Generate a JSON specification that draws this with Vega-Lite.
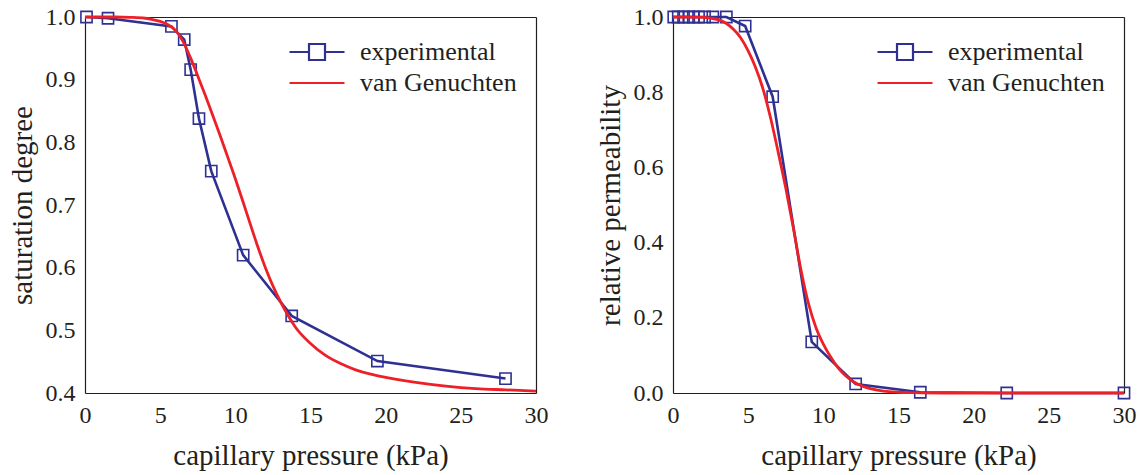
{
  "$schema": "https://vega.github.io/schema/vega-lite/v6.json",
  "background": "white",
  "padding": {"left": 8, "top": 5, "right": 5, "bottom": 5},
  "config": {
    "view": {"stroke": null},
    "font": "Liberation Serif",
    "axis": {
      "grid": false,
      "labelFont": "Liberation Serif",
      "labelFontSize": 24,
      "labelColor": "#231f20",
      "titleFont": "Liberation Serif",
      "titleFontSize": 29,
      "titleFontWeight": "normal",
      "titleColor": "#231f20",
      "domainColor": "#231f20",
      "domainWidth": 1.2,
      "tickColor": "#231f20",
      "tickWidth": 1,
      "tickSize": 0,
      "labelOverlap": false,
      "labelFlush": false,
      "labelPadding": 10
    },
    "legend": {
      "orient": "none",
      "legendX": 219,
      "legendY": 22,
      "padding": 0,
      "labelFont": "Liberation Serif",
      "labelFontSize": 26,
      "labelColor": "#231f20",
      "labelOffset": 30,
      "rowPadding": 5,
      "symbolSize": 400,
      "symbolStrokeWidth": 2.2
    }
  },
  "datasets": {
    "sat_exp": [
      {"p": 0.1, "v": 1.0, "series": "experimental"},
      {"p": 1.53, "v": 0.998, "series": "experimental"},
      {"p": 5.75, "v": 0.985, "series": "experimental"},
      {"p": 6.6, "v": 0.964, "series": "experimental"},
      {"p": 7.03, "v": 0.916, "series": "experimental"},
      {"p": 7.58, "v": 0.838, "series": "experimental"},
      {"p": 8.4, "v": 0.754, "series": "experimental"},
      {"p": 10.52, "v": 0.62, "series": "experimental"},
      {"p": 13.75, "v": 0.523, "series": "experimental"},
      {"p": 19.45, "v": 0.451, "series": "experimental"},
      {"p": 27.97, "v": 0.423, "series": "experimental"}
    ],
    "sat_vg": [
      {"p": 0, "v": 1.0, "series": "van Genuchten"},
      {"p": 1, "v": 1.0, "series": "van Genuchten"},
      {"p": 2, "v": 1.0, "series": "van Genuchten"},
      {"p": 3, "v": 0.9995, "series": "van Genuchten"},
      {"p": 4, "v": 0.998, "series": "van Genuchten"},
      {"p": 4.5, "v": 0.996, "series": "van Genuchten"},
      {"p": 5, "v": 0.993, "series": "van Genuchten"},
      {"p": 5.5, "v": 0.988, "series": "van Genuchten"},
      {"p": 6, "v": 0.979, "series": "van Genuchten"},
      {"p": 6.5, "v": 0.962, "series": "van Genuchten"},
      {"p": 7, "v": 0.936, "series": "van Genuchten"},
      {"p": 7.5, "v": 0.906, "series": "van Genuchten"},
      {"p": 8, "v": 0.875, "series": "van Genuchten"},
      {"p": 8.5, "v": 0.843, "series": "van Genuchten"},
      {"p": 9, "v": 0.81, "series": "van Genuchten"},
      {"p": 9.5, "v": 0.776, "series": "van Genuchten"},
      {"p": 10, "v": 0.742, "series": "van Genuchten"},
      {"p": 10.5, "v": 0.706, "series": "van Genuchten"},
      {"p": 11, "v": 0.669, "series": "van Genuchten"},
      {"p": 11.5, "v": 0.633, "series": "van Genuchten"},
      {"p": 12, "v": 0.6, "series": "van Genuchten"},
      {"p": 12.5, "v": 0.571, "series": "van Genuchten"},
      {"p": 13, "v": 0.546, "series": "van Genuchten"},
      {"p": 13.5, "v": 0.524, "series": "van Genuchten"},
      {"p": 14, "v": 0.505, "series": "van Genuchten"},
      {"p": 15, "v": 0.479, "series": "van Genuchten"},
      {"p": 16, "v": 0.46, "series": "van Genuchten"},
      {"p": 17, "v": 0.447, "series": "van Genuchten"},
      {"p": 18, "v": 0.437, "series": "van Genuchten"},
      {"p": 19, "v": 0.43, "series": "van Genuchten"},
      {"p": 20, "v": 0.425, "series": "van Genuchten"},
      {"p": 22, "v": 0.417, "series": "van Genuchten"},
      {"p": 24, "v": 0.411, "series": "van Genuchten"},
      {"p": 26, "v": 0.407, "series": "van Genuchten"},
      {"p": 28, "v": 0.405, "series": "van Genuchten"},
      {"p": 30, "v": 0.403, "series": "van Genuchten"}
    ],
    "kr_exp": [
      {"p": 0.05, "v": 1.0, "series": "experimental"},
      {"p": 0.35, "v": 1.0, "series": "experimental"},
      {"p": 0.7, "v": 1.0, "series": "experimental"},
      {"p": 1.05, "v": 1.0, "series": "experimental"},
      {"p": 1.35, "v": 1.0, "series": "experimental"},
      {"p": 1.7, "v": 1.0, "series": "experimental"},
      {"p": 2.1, "v": 1.0, "series": "experimental"},
      {"p": 2.65, "v": 1.0, "series": "experimental"},
      {"p": 3.55, "v": 1.0, "series": "experimental"},
      {"p": 4.8, "v": 0.976, "series": "experimental"},
      {"p": 6.63, "v": 0.788, "series": "experimental"},
      {"p": 9.23, "v": 0.136, "series": "experimental"},
      {"p": 12.15, "v": 0.024, "series": "experimental"},
      {"p": 16.45, "v": 0.002, "series": "experimental"},
      {"p": 22.2, "v": 0.0, "series": "experimental"},
      {"p": 30, "v": 0.0, "series": "experimental"}
    ],
    "kr_vg": [
      {"p": 0, "v": 1.0, "series": "van Genuchten"},
      {"p": 1, "v": 1.0, "series": "van Genuchten"},
      {"p": 2, "v": 0.999, "series": "van Genuchten"},
      {"p": 2.5, "v": 0.997, "series": "van Genuchten"},
      {"p": 3, "v": 0.993, "series": "van Genuchten"},
      {"p": 3.5, "v": 0.984, "series": "van Genuchten"},
      {"p": 4, "v": 0.968, "series": "van Genuchten"},
      {"p": 4.5, "v": 0.945, "series": "van Genuchten"},
      {"p": 5, "v": 0.91, "series": "van Genuchten"},
      {"p": 5.5, "v": 0.865, "series": "van Genuchten"},
      {"p": 6, "v": 0.807, "series": "van Genuchten"},
      {"p": 6.5, "v": 0.73, "series": "van Genuchten"},
      {"p": 7, "v": 0.64, "series": "van Genuchten"},
      {"p": 7.5, "v": 0.545, "series": "van Genuchten"},
      {"p": 8, "v": 0.44, "series": "van Genuchten"},
      {"p": 8.5, "v": 0.33, "series": "van Genuchten"},
      {"p": 9, "v": 0.24, "series": "van Genuchten"},
      {"p": 9.5, "v": 0.175, "series": "van Genuchten"},
      {"p": 10, "v": 0.13, "series": "van Genuchten"},
      {"p": 10.5, "v": 0.095, "series": "van Genuchten"},
      {"p": 11, "v": 0.066, "series": "van Genuchten"},
      {"p": 11.5, "v": 0.045, "series": "van Genuchten"},
      {"p": 12, "v": 0.03, "series": "van Genuchten"},
      {"p": 13, "v": 0.013, "series": "van Genuchten"},
      {"p": 14, "v": 0.005, "series": "van Genuchten"},
      {"p": 15, "v": 0.002, "series": "van Genuchten"},
      {"p": 16, "v": 0.001, "series": "van Genuchten"},
      {"p": 18, "v": 0.0, "series": "van Genuchten"},
      {"p": 20, "v": 0.0, "series": "van Genuchten"},
      {"p": 25, "v": 0.0, "series": "van Genuchten"},
      {"p": 30, "v": 0.0, "series": "van Genuchten"}
    ]
  },
  "spacing": 48,
  "resolve": {"scale": {"color": "independent"}},
  "hconcat": [
    {
      "width": 451,
      "height": 376,
      "resolve": {"scale": {"x": "independent", "y": "independent"}},
      "layer": [
        {
          "encoding": {
            "x": {"field": "p", "type": "quantitative", "title": "capillary pressure (kPa)",
              "scale": {"domain": [0, 30], "nice": false, "zero": false},
              "axis": {"values": [0, 2.5, 5, 7.5, 10, 12.5, 15, 17.5, 20, 22.5, 25, 27.5, 30],
                "labelExpr": "datum.value % 5 == 0 ? datum.label : ''", "titlePadding": 14,
                "encode": {"ticks": {"update": {"y2": {"signal": "datum.value % 5 == 0 ? -8 : -4"}}}}}},
            "y": {"field": "v", "type": "quantitative", "title": "saturation degree",
              "scale": {"domain": [0.4, 1.0], "nice": false, "zero": false},
              "axis": {"values": [0.4, 0.45, 0.5, 0.55, 0.6, 0.65, 0.7, 0.75, 0.8, 0.85, 0.9, 0.95, 1.0],
                "labelExpr": "abs(datum.value*10 - round(datum.value*10)) < 0.001 ? format(datum.value, '.1f') : ''", "titlePadding": 8,
                "encode": {"ticks": {"update": {"x2": {"signal": "abs(datum.value*10 - round(datum.value*10)) < 0.001 ? 8 : 4"}}}}}},
            "color": {"field": "series", "type": "nominal",
              "scale": {"domain": ["experimental", "van Genuchten"], "range": ["#2E3192", "#EE2027"]},
              "legend": {"title": null,
                "encode": {"symbols": {"update": {
                  "shape": {"signal": "datum.value === 'experimental' ? 'M-2.75,0H-0.8M0.8,0H2.75M-0.8,-0.8H0.8V0.8H-0.8Z' : 'M-2.75,0H2.75'"},
                  "fill": {"value": "transparent"},
                  "strokeWidth": {"value": 2.2}}}}}}
          },
          "layer": [
            {"data": {"name": "sat_exp"},
              "mark": {"type": "line", "strokeWidth": 2.6, "point": {"shape": "square", "filled": false, "size": 125, "strokeWidth": 1.6}}},
            {"data": {"name": "sat_vg"},
              "mark": {"type": "line", "strokeWidth": 2.8, "interpolate": "monotone"}}
          ]
        },
        {
          "data": {"name": "sat_vg"},
          "mark": {"type": "line", "opacity": 0},
          "encoding": {
            "x": {"field": "p", "type": "quantitative",
              "scale": {"domain": [0, 30], "nice": false, "zero": false},
              "axis": {"orient": "top", "title": null, "labels": false,
                "values": [0, 2.5, 5, 7.5, 10, 12.5, 15, 17.5, 20, 22.5, 25, 27.5, 30],
                "encode": {"ticks": {"update": {"y2": {"signal": "datum.value % 5 == 0 ? 8 : 4"}}}}}},
            "y": {"field": "v", "type": "quantitative",
              "scale": {"domain": [0.4, 1.0], "nice": false, "zero": false},
              "axis": {"orient": "right", "title": null, "labels": false,
                "values": [0.4, 0.45, 0.5, 0.55, 0.6, 0.65, 0.7, 0.75, 0.8, 0.85, 0.9, 0.95, 1.0],
                "encode": {"ticks": {"update": {"x2": {"signal": "abs(datum.value*10 - round(datum.value*10)) < 0.001 ? -8 : -4"}}}}}}
          }
        }
      ]
    },
    {
      "width": 451,
      "height": 376,
      "resolve": {"scale": {"x": "independent", "y": "independent"}},
      "layer": [
        {
          "encoding": {
            "x": {"field": "p", "type": "quantitative", "title": "capillary pressure (kPa)",
              "scale": {"domain": [0, 30], "nice": false, "zero": false},
              "axis": {"values": [0, 2.5, 5, 7.5, 10, 12.5, 15, 17.5, 20, 22.5, 25, 27.5, 30],
                "labelExpr": "datum.value % 5 == 0 ? datum.label : ''", "titlePadding": 14,
                "encode": {"ticks": {"update": {"y2": {"signal": "datum.value % 5 == 0 ? -8 : -4"}}}}}},
            "y": {"field": "v", "type": "quantitative", "title": "relative permeability",
              "scale": {"domain": [0, 1.0], "nice": false, "zero": false},
              "axis": {"values": [0, 0.1, 0.2, 0.3, 0.4, 0.5, 0.6, 0.7, 0.8, 0.9, 1.0],
                "labelExpr": "abs(datum.value*5 - round(datum.value*5)) < 0.001 ? format(datum.value, '.1f') : ''", "titlePadding": 8,
                "encode": {"ticks": {"update": {"x2": {"signal": "abs(datum.value*5 - round(datum.value*5)) < 0.001 ? 8 : 4"}}}}}},
            "color": {"field": "series", "type": "nominal",
              "scale": {"domain": ["experimental", "van Genuchten"], "range": ["#2E3192", "#EE2027"]},
              "legend": {"title": null,
                "encode": {"symbols": {"update": {
                  "shape": {"signal": "datum.value === 'experimental' ? 'M-2.75,0H-0.8M0.8,0H2.75M-0.8,-0.8H0.8V0.8H-0.8Z' : 'M-2.75,0H2.75'"},
                  "fill": {"value": "transparent"},
                  "strokeWidth": {"value": 2.2}}}}}}
          },
          "layer": [
            {"data": {"name": "kr_exp"},
              "mark": {"type": "line", "strokeWidth": 2.6, "point": {"shape": "square", "filled": false, "size": 125, "strokeWidth": 1.6}}},
            {"data": {"name": "kr_vg"},
              "mark": {"type": "line", "strokeWidth": 2.8, "interpolate": "monotone"}}
          ]
        },
        {
          "data": {"name": "kr_vg"},
          "mark": {"type": "line", "opacity": 0},
          "encoding": {
            "x": {"field": "p", "type": "quantitative",
              "scale": {"domain": [0, 30], "nice": false, "zero": false},
              "axis": {"orient": "top", "title": null, "labels": false,
                "values": [0, 2.5, 5, 7.5, 10, 12.5, 15, 17.5, 20, 22.5, 25, 27.5, 30],
                "encode": {"ticks": {"update": {"y2": {"signal": "datum.value % 5 == 0 ? 8 : 4"}}}}}},
            "y": {"field": "v", "type": "quantitative",
              "scale": {"domain": [0, 1.0], "nice": false, "zero": false},
              "axis": {"orient": "right", "title": null, "labels": false,
                "values": [0, 0.1, 0.2, 0.3, 0.4, 0.5, 0.6, 0.7, 0.8, 0.9, 1.0],
                "encode": {"ticks": {"update": {"x2": {"signal": "abs(datum.value*5 - round(datum.value*5)) < 0.001 ? -8 : -4"}}}}}}
          }
        }
      ]
    }
  ]
}
